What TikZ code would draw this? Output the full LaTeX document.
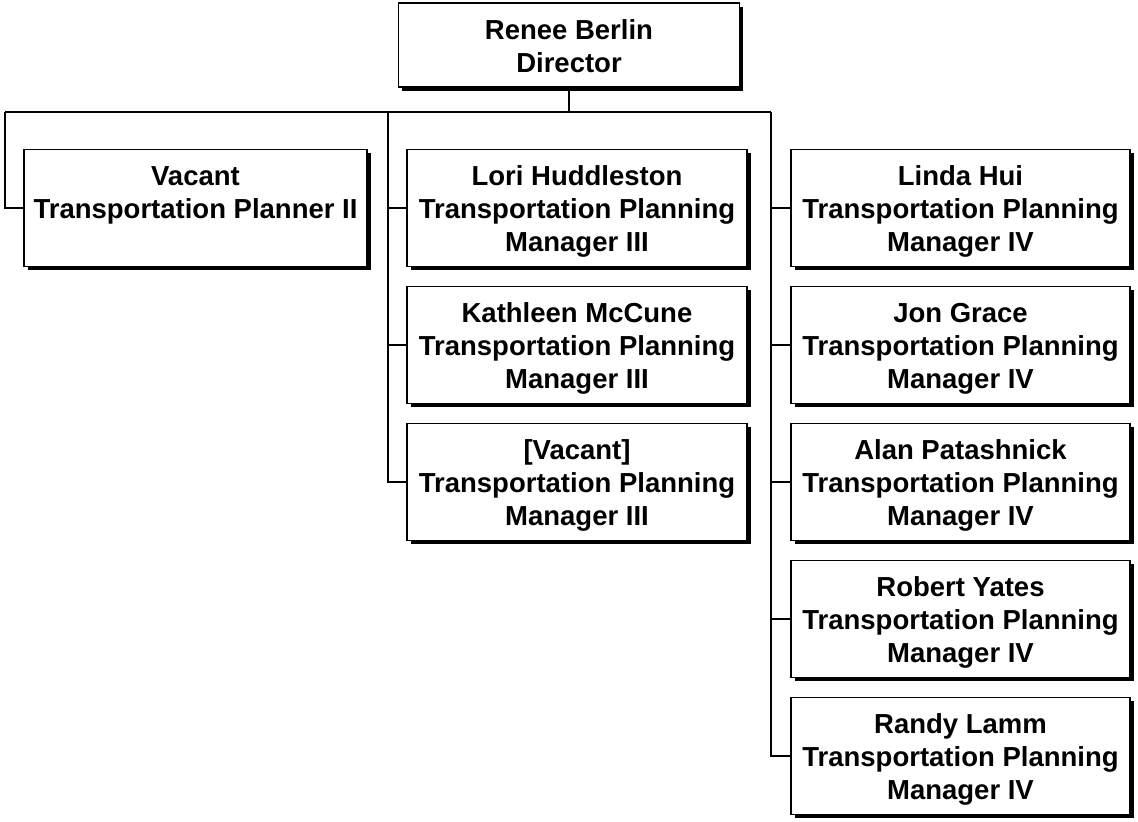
\documentclass[tikz,border=0pt]{standalone}
\usepackage{fontspec}
\setmainfont{Liberation Sans}
\usetikzlibrary{shadows}
\newcommand{\tstr}{\rule{0pt}{26pt}}
\begin{document}
\begin{tikzpicture}[x=1pt,y=1pt,
  box/.style={draw=black, line width=1.8pt, fill=white, align=center,
    inner sep=0pt, font=\fontsize{27.5}{33}\selectfont\bfseries,
    drop shadow={shadow xshift=3.5pt, shadow yshift=-3.5pt, fill=black, opacity=1}},
  wide/.style={box, minimum width=340pt, minimum height=117pt},
  conn/.style={draw=black, line width=1.8pt}]
\useasboundingbox (0,0) rectangle (1138,-822);
\fill[white] (0,0) rectangle (1138,-822);

\node[box, minimum width=341pt, minimum height=84pt] (dir) at (569,-45) {\rule{0pt}{23pt}Renee Berlin\\Director};

\node[wide, minimum width=343pt] (vac) at (195.5,-208) {\tstr Vacant\\Transportation Planner II\\\phantom{g}};

\node[wide] (m1) at (577,-208) {\tstr Lori Huddleston\\Transportation Planning\\Manager III};
\node[wide] (m2) at (577,-345) {\tstr Kathleen McCune\\Transportation Planning\\Manager III};
\node[wide] (m3) at (577,-482) {\tstr [Vacant]\\Transportation Planning\\Manager III};

\node[wide, minimum width=339pt] (r1) at (960.5,-208) {\tstr Linda Hui\\Transportation Planning\\Manager IV};
\node[wide, minimum width=339pt] (r2) at (960.5,-345) {\tstr Jon Grace\\Transportation Planning\\Manager IV};
\node[wide, minimum width=339pt] (r3) at (960.5,-482) {\tstr Alan Patashnick\\Transportation Planning\\Manager IV};
\node[wide, minimum width=339pt] (r4) at (960.5,-619) {\tstr Robert Yates\\Transportation Planning\\Manager IV};
\node[wide, minimum width=339pt] (r5) at (960.5,-756) {\tstr Randy Lamm\\Transportation Planning\\Manager IV};

\coordinate (bus) at (569,-112);
\coordinate (L) at (5,-112);
\coordinate (M) at (388,-112);
\coordinate (R) at (771,-112);

\draw[conn] (dir.south) -- (bus);
\draw[conn] (L) -- (R);
\draw[conn] (L) |- (vac.west);
\draw[conn] (M) |- (m3.west);
\draw[conn] (M |- m1.west) -- (m1.west);
\draw[conn] (M |- m2.west) -- (m2.west);
\draw[conn] (R) |- (r5.west);
\draw[conn] (R |- r1.west) -- (r1.west);
\draw[conn] (R |- r2.west) -- (r2.west);
\draw[conn] (R |- r3.west) -- (r3.west);
\draw[conn] (R |- r4.west) -- (r4.west);
\end{tikzpicture}
\end{document}
